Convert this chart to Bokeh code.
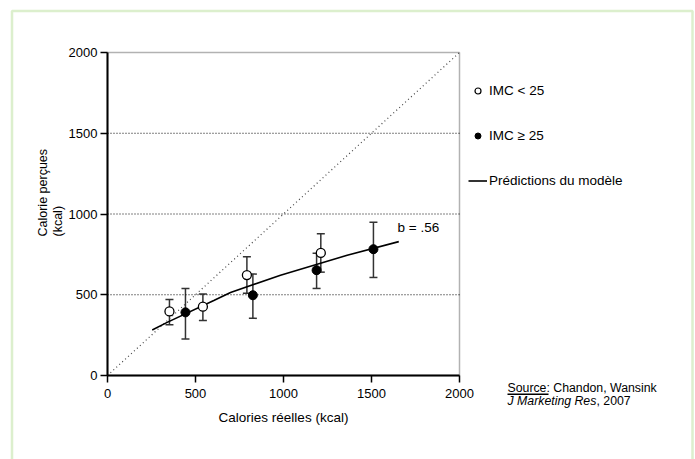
from bokeh.plotting import figure
from bokeh.models import (Range1d, Label, BoxAnnotation, Whisker, TeeHead, ColumnDataSource,
                          Legend, LegendItem, FixedTicker, LinearAxis)
from bokeh.embed import file_html
from bokeh.resources import INLINE
import math

# ---------------- data ----------------
low_x = [352, 542, 792, 1212]
low_y = [397, 426, 622, 759]
low_upper = [471, 504, 735, 878]
low_lower = [315, 340, 510, 640]

high_x = [443, 826, 1188, 1511]
high_y = [391, 497, 652, 782]
high_upper = [539, 628, 757, 949]
high_lower = [226, 354, 539, 607]

model_x = [254, 339, 604, 699, 983, 1362, 1655]
model_y = [282, 329, 464, 514, 621, 745, 829]

diag_x = [0, 2000]
diag_y = [0, 2000]

ticks = [0, 500, 1000, 1500, 2000]
grid_vals = [500, 1000, 1500]
axis_min, axis_max = 0, 2000

FONT = "Liberation Sans"
W, H = 695, 459
FL, FR, FT, FB = 107, 459, 52, 375  # plot box in page px

sx = 2000 / (FR - FL)
sy = 2000 / (FB - FT)
def dx(px):
    return (px - FL) * sx
def dy(py):
    return (FB - py) * sy

p = figure(width=W, height=H, output_backend="svg", toolbar_location=None,
           x_range=Range1d(dx(0), dx(W)), y_range=Range1d(dy(H), dy(0)),
           x_axis_location=None, y_axis_location=None, min_border=0)
p.background_fill_color = "white"
p.border_fill_color = "white"
p.outline_line_color = None
p.xgrid.visible = False
p.ygrid.visible = False

xa = LinearAxis(fixed_location=0, bounds=(axis_min, axis_max))
ya = LinearAxis(fixed_location=0, bounds=(axis_min, axis_max))
for ax in (xa, ya):
    ax.ticker = FixedTicker(ticks=ticks)
    ax.axis_line_color = "black"
    ax.axis_line_width = 2
    ax.major_tick_line_color = "black"
    ax.major_tick_line_width = 1.5
    ax.major_tick_out = 7
    ax.major_tick_in = 0
    ax.minor_tick_line_color = None
    ax.major_label_text_font = FONT
    ax.major_label_text_font_size = "13px"
    ax.major_label_text_color = "black"
xa.major_label_standoff = 6
ya.major_label_standoff = 3
xa.axis_label = "Calories réelles (kcal)"
xa.axis_label_text_font = FONT
xa.axis_label_text_font_size = "13.5px"
xa.axis_label_text_font_style = "normal"
xa.axis_label_text_color = "black"
xa.axis_label_standoff = 9
p.add_layout(xa, "below")
p.add_layout(ya, "left")

# green frame around everything
p.add_layout(BoxAnnotation(left=dx(11.5), right=dx(692), top=dy(10.5), bottom=dy(480),
                           fill_alpha=0, line_color="#8ccb5a", line_width=2.5))

# horizontal dotted grid lines
p.segment(x0=[axis_min] * len(grid_vals), x1=[axis_max] * len(grid_vals),
          y0=grid_vals, y1=grid_vals, line_color="black", line_width=1, line_dash="1 2")

# plot box (top and right edges)
p.add_layout(BoxAnnotation(left=axis_min, right=axis_max, bottom=axis_min, top=axis_max,
                           fill_alpha=0, line_color="black", line_width=1.5))

# diagonal
p.line(diag_x, diag_y, line_color="#444444", line_width=1.2, line_dash="1 3")

# legend proxies (small markers hidden beneath the first data markers)
r_lo = p.scatter(low_x[:1], low_y[:1], size=6, marker="circle", fill_color="white",
                 line_color="black", line_width=1.2)
r_hi = p.scatter(high_x[:1], high_y[:1], size=6, marker="circle", fill_color="black",
                 line_color="black")

# error bars
for xs, ups, los in ((low_x, low_upper, low_lower), (high_x, high_upper, high_lower)):
    src = ColumnDataSource(dict(x=xs, upper=ups, lower=los))
    p.add_layout(Whisker(source=src, base="x", upper="upper", lower="lower",
                         line_color="#333333", line_width=1.5,
                         upper_head=TeeHead(size=8, line_color="#333333", line_width=1.5),
                         lower_head=TeeHead(size=8, line_color="#333333", line_width=1.5)))

# model line
r_ml = p.line(model_x, model_y, line_color="black", line_width=1.6)

# points
p.scatter(low_x, low_y, size=9, marker="circle", fill_color="white", line_color="black", line_width=1.3)
p.scatter(high_x, high_y, size=9, marker="circle", fill_color="black", line_color="black")

legend = Legend(items=[LegendItem(label="IMC < 25", renderers=[r_lo]),
                       LegendItem(label="IMC ≥ 25", renderers=[r_hi]),
                       LegendItem(label="Prédictions du modèle", renderers=[r_ml])],
                location=(468, H - 188), orientation="vertical",
                glyph_width=19, glyph_height=15, label_height=15, spacing=30,
                padding=0, margin=0, label_standoff=2,
                label_text_font=FONT, label_text_font_size="13.5px", label_text_color="black",
                border_line_color=None, background_fill_alpha=0)
p.add_layout(legend)

# b annotation
p.add_layout(Label(x=1648, y=916, text="b = .56", text_font=FONT, text_color="black",
                   text_font_size="13.5px", text_baseline="middle", text_align="left"))

# y axis title (two lines)
p.add_layout(Label(x=dx(42), y=dy(236), text="Calorie perçues", angle=math.pi / 2,
                   text_font=FONT, text_font_size="12.5px", text_color="black",
                   text_baseline="middle", text_align="left"))
p.add_layout(Label(x=dx(57), y=dy(236), text="(kcal)", angle=math.pi / 2,
                   text_font=FONT, text_font_size="12.5px", text_color="black",
                   text_baseline="middle", text_align="left"))

# source
p.add_layout(Label(x=dx(507), y=dy(387), text="Source: Chandon, Wansink",
                   text_font=FONT, text_font_size="12.3px", text_color="black",
                   text_baseline="middle", text_align="left"))
p.add_layout(BoxAnnotation(left=dx(507), right=dx(548), top=dy(393), bottom=dy(394.5),
                           fill_color="black", fill_alpha=1, line_color=None))
p.add_layout(Label(x=dx(507), y=dy(400), text="J Marketing Res",
                   text_font=FONT, text_font_size="12.3px", text_font_style="italic",
                   text_color="black", text_baseline="middle", text_align="left"))
p.add_layout(Label(x=dx(596), y=dy(400), text=", 2007",
                   text_font=FONT, text_font_size="12.3px", text_color="black",
                   text_baseline="middle", text_align="left"))

open("out.html", "w").write(file_html(p, INLINE))
